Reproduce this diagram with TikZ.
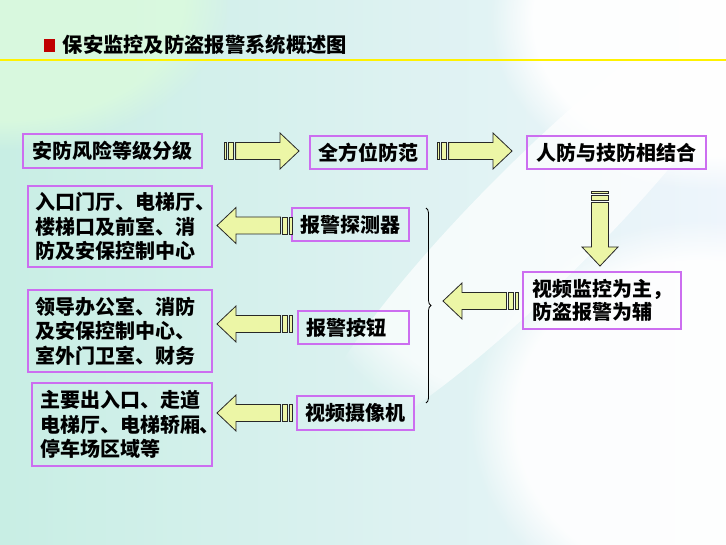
\documentclass[tikz,border=0pt]{standalone}
\usepackage{fontspec}
\setmainfont{Noto Sans CJK SC}
\usetikzlibrary{calc,decorations.pathreplacing,fadings}
\definecolor{boxc}{RGB}{204,110,240}
\definecolor{arrfill}{RGB}{236,246,166}
\definecolor{arrline}{RGB}{40,40,40}
\definecolor{titlered}{RGB}{192,0,0}
\definecolor{bgL}{RGB}{200,238,228}
\definecolor{bgM}{RGB}{202,226,246}
\definecolor{bgR}{RGB}{238,245,252}
\definecolor{bgG}{RGB}{218,250,222}
\tikzset{
  box/.style={draw=boxc, line width=1.2pt, align=left, inner ysep=0pt,
    font=\bfseries\fontsize{20}{24.5}\selectfont},
  arrsty/.style={fill=arrfill, draw=arrline, line width=0.8pt, line join=miter},
  sarrow/.pic={
    \filldraw[arrsty] (0,-8.5) rectangle (2.6,8.5);
    \filldraw[arrsty] (4.8,-8.5) rectangle (9.4,8.5);
    \filldraw[arrsty] (11.6,-8.5) -- (56,-8.5) -- (56,-18) -- (75,0)
      -- (56,18) -- (56,8.5) -- (11.6,8.5) -- cycle;
  }
}
\begin{document}
\begin{tikzpicture}[x=1pt,y=-1pt]
\useasboundingbox (0,0) rectangle (726,545);
% background
\shade[left color=bgL, middle color=bgM, right color=bgR] (0,0) rectangle (726,545);
\fill[bgG, path fading=circle with fuzzy edge 20 percent, opacity=0.9]
  (0,0) ellipse [x radius=230pt, y radius=150pt];
\fill[white, path fading=circle with fuzzy edge 20 percent, opacity=0.95]
  (710,20) ellipse [x radius=220pt, y radius=170pt];
\fill[white, path fading=circle with fuzzy edge 20 percent, opacity=0.9]
  (700,420) ellipse [x radius=230pt, y radius=200pt];
\fill[white, path fading=circle with fuzzy edge 20 percent, opacity=0.7, rotate around={45:(540,220)}]
  (540,220) ellipse [x radius=320pt, y radius=60pt];
% title
\fill[titlered] (44,39) rectangle (55,52);
\node[anchor=west, inner sep=0pt, font=\bfseries\fontsize{20.3}{22}\selectfont] (title) at (62.5,45)
  {保安监控及防盗报警系统概述图};
\draw[yellow, line width=2pt] (0,60.5) -- (726,60.5);
% boxes
\node[box, text width=161pt, inner xsep=9pt, minimum height=34pt] (risk) at (112.5,151) {安防风险等级分级};
\node[box, text width=101pt, inner xsep=8pt, minimum height=33pt] (full) at (368.5,152.5) {全方位防范};
\node[box, text width=161pt, inner xsep=9pt, minimum height=33pt] (combine) at (616.5,152.5) {人防与技防相结合};
\node[box, text width=140pt, inner xsep=9pt, minimum height=57pt,
      font=\bfseries\fontsize{20}{23}\selectfont] (video) at (602,300.5) {视频监控为主，\\防盗报警为辅};
\node[box, text width=101pt, inner xsep=8pt, minimum height=33pt] (detector) at (350.5,224.5) {报警探测器};
\node[box, text width=95pt, inner xsep=8pt, minimum height=33pt] (button) at (353.5,327.5) {报警按钮};
\node[box, text width=101pt, inner xsep=8pt, minimum height=34pt] (camera) at (355.5,413) {视频摄像机};
\node[box, text width=170pt, inner xsep=7pt, minimum height=81pt] (zone1) at (120,226.5)
  {入口门厅、电梯厅、\\楼梯口及前室、消\\防及安保控制中心};
\node[box, text width=170pt, inner xsep=7pt, minimum height=82pt] (zone2) at (120,331)
  {领导办公室、消防\\及安保控制中心、\\室外门卫室、财务};
\node[box, text width=164pt, inner xsep=8pt, minimum height=83pt] (zone3) at (122,424.5)
  {主要出入口、走道\\电梯厅、电梯轿厢、\\停车场区域等};
% striped block arrows
\pic at (224,151) {sarrow};
\pic at (437,151) {sarrow};
\pic[rotate=-90] at (600,191) {sarrow};
\pic[rotate=180] at (518,301) {sarrow};
\pic[rotate=180] at (292,225.5) {sarrow};
\pic[rotate=180] at (292,324) {sarrow};
\pic[rotate=180] at (292,413) {sarrow};
% brace
\coordinate (btop) at (426,208);
\coordinate (bbot) at (426,403);
\draw[line width=0.8pt, decorate, decoration={brace, amplitude=5pt}] (btop) -- (bbot);
\end{tikzpicture}
\end{document}
